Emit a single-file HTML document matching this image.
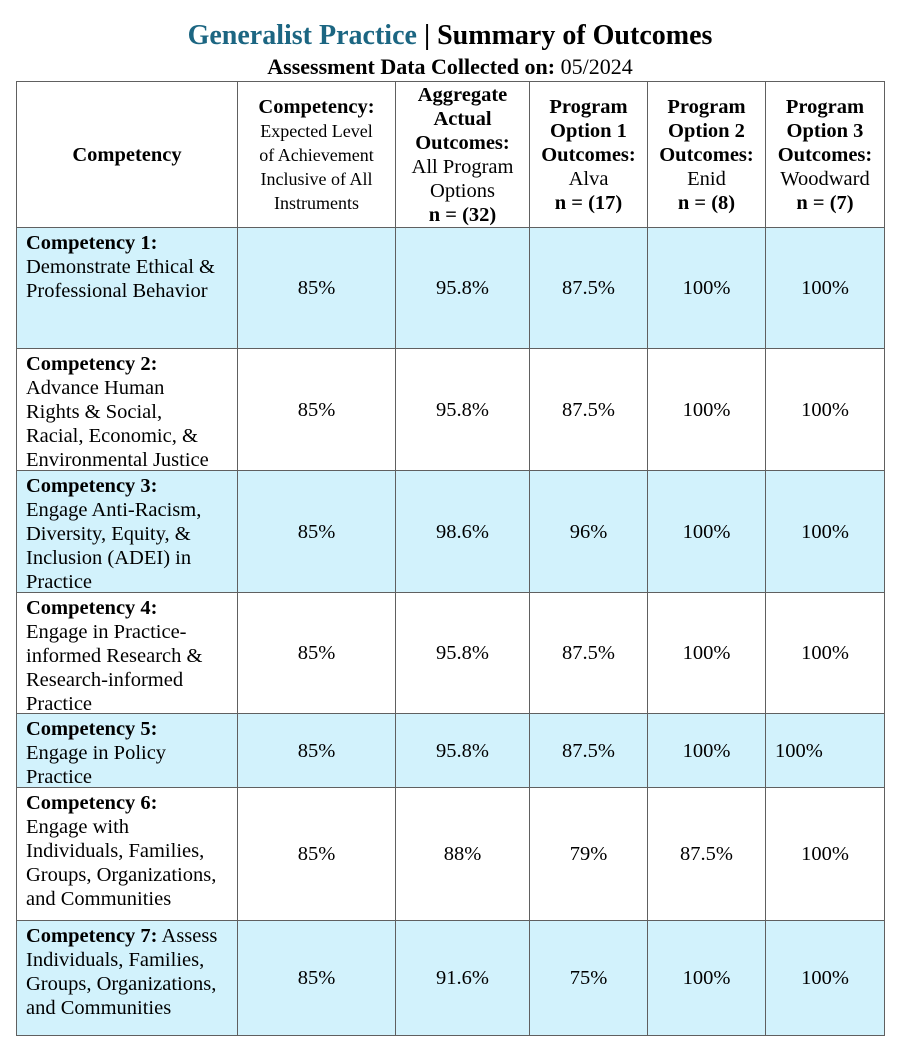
<!DOCTYPE html>
<html><head><meta charset="utf-8"><style>
body{margin:0;background:#fff;width:900px;height:1059px;position:relative;font-family:"Liberation Serif",serif;color:#000;overflow:hidden}
.t1{position:absolute;top:19px;left:0;width:900px;text-align:center;font-weight:bold;font-size:28px;line-height:34px}
.t2{position:absolute;top:54px;left:0;width:900px;text-align:center;font-size:22px;line-height:26px}
.c{position:absolute;box-sizing:border-box;border:1px solid #606060;font-size:20.5px;line-height:24px}
.v{display:flex;align-items:center;justify-content:center;text-align:center}
.l{padding:3px 0 0 9px}
.r{display:flex;align-items:center;padding-left:9px}
.b{background:#d2f2fc}
</style></head><body>
<div class="t1"><span style="color:#1c6682">Generalist Practice</span> | Summary of Outcomes</div>
<div class="t2"><b>Assessment Data Collected on:</b> 05/2024</div>
<div id="g"></div>
<script>
var xs=[16,237,395,529,647,765,884];
var ys=[81,227,348,470,592,713,787,920,1035];
var hdr=['<b>Competency</b>','<b>Competency:</b><br><span style="font-size:18px">Expected Level<br>of Achievement<br>Inclusive of All<br>Instruments</span>','<b>Aggregate<br>Actual<br>Outcomes:</b><br>All Program<br>Options<br><b>n = (32)</b>','<b>Program<br>Option 1<br>Outcomes:</b><br>Alva<br><b>n = (17)</b>','<b>Program<br>Option 2<br>Outcomes:</b><br>Enid<br><b>n = (8)</b>','<b>Program<br>Option 3<br>Outcomes:</b><br>Woodward<br><b>n = (7)</b>'];
var rows=[
['<b>Competency 1:</b><br>Demonstrate Ethical &amp;<br>Professional Behavior','85%','95.8%','87.5%','100%','100%'],
['<b>Competency 2:</b><br>Advance Human<br>Rights &amp; Social,<br>Racial, Economic, &amp;<br>Environmental Justice','85%','95.8%','87.5%','100%','100%'],
['<b>Competency 3:</b><br>Engage Anti-Racism,<br>Diversity, Equity, &amp;<br>Inclusion (ADEI) in<br>Practice','85%','98.6%','96%','100%','100%'],
['<b>Competency 4:</b><br>Engage in Practice-<br>informed Research &amp;<br>Research-informed<br>Practice','85%','95.8%','87.5%','100%','100%'],
['<b>Competency 5:</b><br>Engage in Policy<br>Practice','85%','95.8%','87.5%','100%','100%'],
['<b>Competency 6:</b><br>Engage with<br>Individuals, Families,<br>Groups, Organizations,<br>and Communities','85%','88%','79%','87.5%','100%'],
['<b>Competency 7:</b> Assess<br>Individuals, Families,<br>Groups, Organizations,<br>and Communities','85%','91.6%','75%','100%','100%']];
var h='';
function cell(r,c,html,cls){h+='<div class="c '+cls+'" style="left:'+xs[c]+'px;top:'+ys[r]+'px;width:'+(xs[c+1]-xs[c]+1)+'px;height:'+(ys[r+1]-ys[r]+1)+'px"><div>'+html+'</div></div>';}
for(var c=0;c<6;c++)cell(0,c,hdr[c],'v');
for(var r=0;r<7;r++){var bl=(r%2==0)?' b':'';for(var c=0;c<6;c++){
 if(c==0)cell(r+1,c,rows[r][c],'l'+bl);
 else if(r==4&&c==5)cell(r+1,c,rows[r][c],'r'+bl);
 else cell(r+1,c,rows[r][c],'v'+bl);}}
document.getElementById('g').innerHTML=h;
</script>
</body></html>
